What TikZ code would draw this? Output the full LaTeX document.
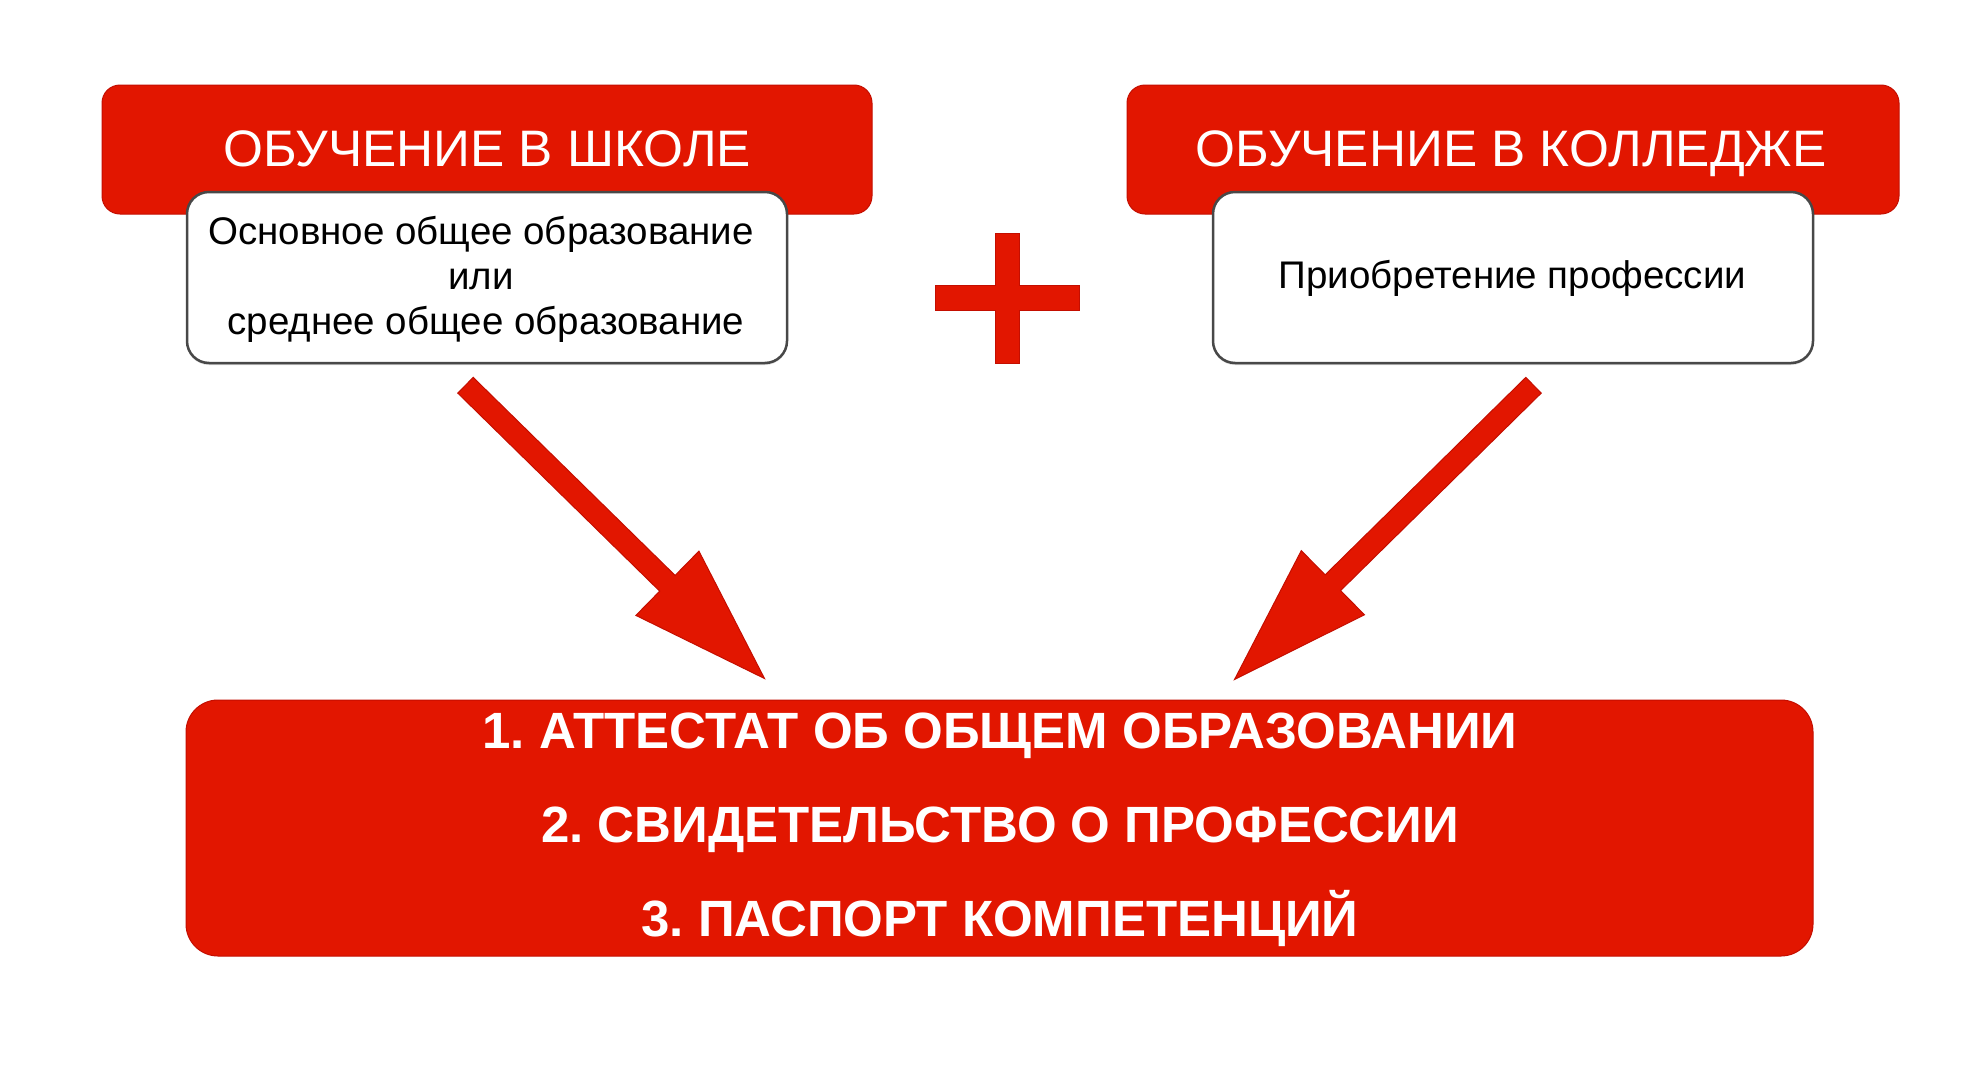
\documentclass[tikz,border=0pt]{standalone}
\usepackage{fontspec}
\setmainfont{Liberation Sans}
\usetikzlibrary{calc,shadows}
\definecolor{bred}{RGB}{226,22,0}
\definecolor{bredline}{RGB}{196,14,0}
\definecolor{bgray}{RGB}{72,72,72}
\tikzset{
  redbox/.style={rectangle, rounded corners=18pt, fill=bred, draw=bredline, line width=1pt, inner sep=0pt},
  whitebox/.style={rectangle, rounded corners=22pt, fill=white, draw=bgray, line width=2.5pt, inner sep=0pt,
    drop shadow={shadow xshift=0pt, shadow yshift=-2pt, opacity=0.3}},
  headtext/.style={anchor=base, text=white, font=\fontsize{51.3}{60}\selectfont, inner sep=0pt},
  bodytext/.style={anchor=base, text=black, font=\fontsize{38.5}{45}\selectfont, inner sep=0pt},
  resulttext/.style={anchor=base, text=white, font=\bfseries\fontsize{51}{60}\selectfont, inner sep=0pt},
  arrowfill/.style={fill=bred, draw=bredline, line width=1pt, line join=miter},
}
\frenchspacing
\begin{document}
\begin{tikzpicture}[x=1pt,y=-1pt]
\useasboundingbox (0,0) rectangle (1964,1068);
\fill[white] (0,0) rectangle (1964,1068);

% header boxes
\node[redbox, minimum width=770pt, minimum height=129pt] (schoolhead) at (487,149.5) {};
\node[redbox, minimum width=772pt, minimum height=129pt] (collegehead) at (1513,149.5) {};
\node[headtext] (schooltitle) at (487,166) {ОБУЧЕНИЕ В ШКОЛЕ};
\node[headtext] (collegetitle) at (1511,166) {ОБУЧЕНИЕ В КОЛЛЕДЖЕ};

% white boxes
\node[whitebox, minimum width=600pt, minimum height=171pt] (schoolbody) at (487,277.5) {};
\node[whitebox, minimum width=600pt, minimum height=171pt] (collegebody) at (1513,277.5) {};
\node[bodytext] (schoolline1) at (481,244) {Основное общее образование};
\node[bodytext] (schoolline2) at (481,289) {или};
\node[bodytext] (schoolline3) at (486,334) {среднее общее образование};
\node[bodytext] (collegeline) at (1512.5,288) {Приобретение профессии};

% plus sign
\path[arrowfill] (935,285) -- (995,285) -- (995,233) -- (1019,233) -- (1019,285) -- (1079,285)
  -- (1079,310) -- (1019,310) -- (1019,363) -- (995,363) -- (995,310) -- (935,310) -- cycle;

% result box
\node[redbox, rounded corners=32pt, minimum width=1627pt, minimum height=256pt] (result) at (999.5,828) {};
\node[resulttext] (res1) at (1000,748.5) {1. АТТЕСТАТ ОБ ОБЩЕМ ОБРАЗОВАНИИ};
\node[resulttext] (res2) at (1000,842.5) {2. СВИДЕТЕЛЬСТВО О ПРОФЕССИИ};
\node[resulttext] (res3) at (1000,936.5) {3. ПАСПОРТ КОМПЕТЕНЦИЙ};

% block arrows
\coordinate (tl) at ($(schoolbody.south)+(-21.5,21)$);
\coordinate (pl) at ($(result.north west)+(579,-21)$);
\coordinate (tr) at ($(collegebody.south)+(20.5,21)$);
\coordinate (pr) at ($(result.north west)+(1049,-20)$);
\coordinate (hl) at ($(pl)!136pt!(tl)$);
\coordinate (hr) at ($(pr)!138pt!(tr)$);
\path[arrowfill] ($(tl)!11pt!90:(pl)$) -- ($(hl)!11pt!90:(pl)$) -- ($(hl)!45pt!90:(pl)$) -- (pl)
  -- ($(hl)!45pt!-90:(pl)$) -- ($(hl)!11pt!-90:(pl)$) -- ($(tl)!11pt!-90:(pl)$) -- cycle;
\path[arrowfill] ($(tr)!11pt!90:(pr)$) -- ($(hr)!11pt!90:(pr)$) -- ($(hr)!45pt!90:(pr)$) -- (pr)
  -- ($(hr)!45pt!-90:(pr)$) -- ($(hr)!11pt!-90:(pr)$) -- ($(tr)!11pt!-90:(pr)$) -- cycle;
\end{tikzpicture}
\end{document}
